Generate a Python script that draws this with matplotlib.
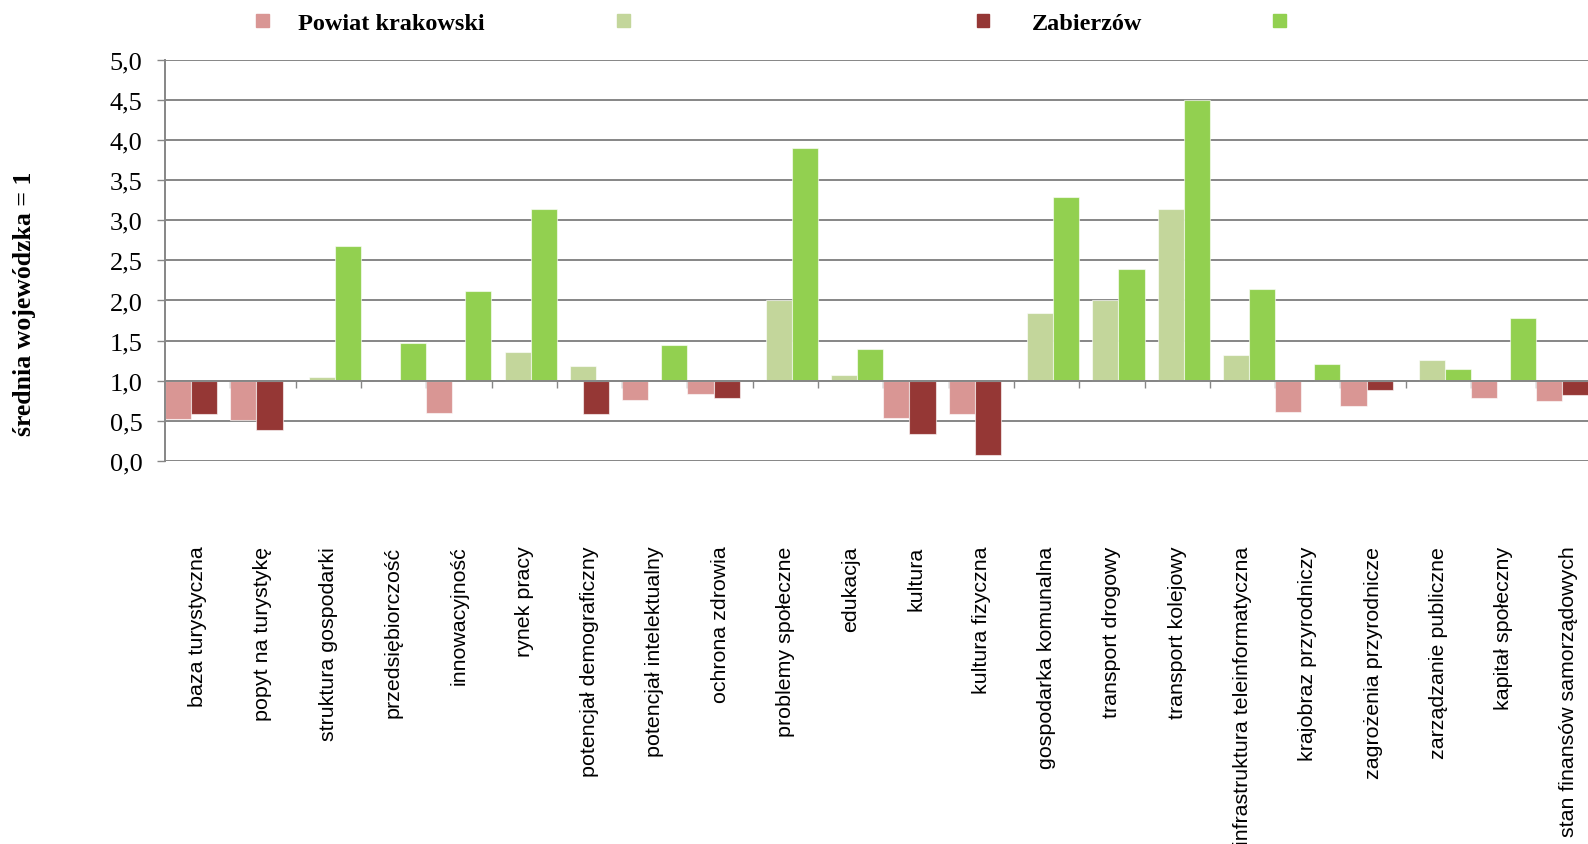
import matplotlib.pyplot as plt
import numpy as np
from matplotlib.patches import Rectangle
from matplotlib.ticker import FuncFormatter

categories = [
    "baza turystyczna", "popyt na turystykę", "struktura gospodarki",
    "przedsiębiorczość", "innowacyjność", "rynek pracy",
    "potencjał demograficzny", "potencjał intelektualny", "ochrona zdrowia",
    "problemy społeczne", "edukacja", "kultura", "kultura fizyczna",
    "gospodarka komunalna", "transport drogowy", "transport kolejowy",
    "infrastruktura teleinformatyczna", "krajobraz przyrodniczy",
    "zagrożenia przyrodnicze", "zarządzanie publiczne", "kapitał społeczny",
    "stan finansów samorządowych",
]
powiat = [0.52, 0.51, 1.05, 1.00, 0.60, 1.36, 1.18, 0.76, 0.83, 2.00, 1.07,
          0.53, 0.59, 1.84, 2.00, 3.14, 1.32, 0.61, 0.69, 1.26, 0.78, 0.75]
zabierzow = [0.58, 0.39, 2.68, 1.47, 2.12, 3.14, 0.58, 1.44, 0.78, 3.90, 1.40,
             0.34, 0.08, 3.29, 2.39, 4.50, 2.14, 1.21, 0.89, 1.15, 1.78, 0.82]
series_names = ["Powiat krakowski", "", "Zabierzów", ""]

W, H = 1588, 845
GRAY = "#868686"
col_pk_low, col_pk_high = "#D99694", "#C3D69B"
col_z_low, col_z_high = "#953735", "#92D050"

fig = plt.figure(figsize=(W / 100, H / 100), dpi=100)
# plot area runs past the right edge, like in the original
ax_left, ax_right, ax_top, ax_bot = 165, 165 + 22 * 65.3, 60.7, 462
ax = fig.add_axes([ax_left / W, 1 - ax_bot / H, (ax_right - ax_left) / W, (ax_bot - ax_top) / H])

idx = np.arange(len(categories))
pk = np.array(powiat)
zb = np.array(zabierzow)
edge = (1, 1, 1, 0.6)

lo = pk < 1
ax.bar(idx[lo], pk[lo] - 1, bottom=1, width=0.4, align="edge", color=col_pk_low, edgecolor=edge, lw=0.8)
ax.bar(idx[~lo] + 0.2, pk[~lo] - 1, bottom=1, width=0.4, align="edge", color=col_pk_high, edgecolor=edge, lw=0.8)
lo = zb < 1
ax.bar(idx[lo] + 0.4, zb[lo] - 1, bottom=1, width=0.4, align="edge", color=col_z_low, edgecolor=edge, lw=0.8)
ax.bar(idx[~lo] + 0.6, zb[~lo] - 1, bottom=1, width=0.4, align="edge", color=col_z_high, edgecolor=edge, lw=0.8)

ax.set_xlim(0, len(categories))
ax.set_ylim(0, 5)
ax.set_yticks(np.arange(0, 5.01, 0.5))
ax.yaxis.set_major_formatter(FuncFormatter(lambda v, p: f"{v:.1f}".replace(".", ",")))
ax.tick_params(axis="y", length=5.8, width=1, color=GRAY, pad=10.5,
               labelsize=19, labelfontfamily="Liberation Serif")
ax.set_axisbelow(True)
ax.yaxis.grid(True, color=GRAY, lw=1.4)

for s in ["top", "right"]:
    ax.spines[s].set_visible(False)
ax.spines["left"].set_color(GRAY)
ax.spines["left"].set_linewidth(1.4)
ax.spines["bottom"].set_position(("data", 1.0))
ax.spines["bottom"].set_color(GRAY)
ax.spines["bottom"].set_linewidth(1.4)

# category boundary ticks on the 1.0 line
ax.set_xticks(np.arange(0, len(categories) + 1))
ax.set_xticklabels([])
ax.tick_params(axis="x", length=5, width=1, color=GRAY, direction="out")

# category labels below the plot
sec = ax.secondary_xaxis(0.0)
sec.set_xticks(idx + 0.5)
sec.set_xticklabels(categories, rotation=90, fontsize=15.4, fontfamily="Liberation Sans")
sec.tick_params(length=0, pad=61)
sec.spines["bottom"].set_visible(False)

fig.text(25 / W, 1 - 304 / H, "średnia wojewódzka = 1", rotation=90, ha="center", va="center",
         fontsize=18.5, fontweight="bold", fontfamily="Liberation Serif")

# legend laid out as in the source chart
leg_colors = [col_pk_low, col_pk_high, col_z_low, col_z_high]
leg_marker_x = [262.5, 623.5, 983, 1279.5]
leg_text_x = [298, None, 1031.5, None]
msize = 12.5
for name, c, mx, tx in zip(series_names, leg_colors, leg_marker_x, leg_text_x):
    fig.add_artist(Rectangle(((mx - msize / 2) / W, 1 - (21.5 + msize / 2) / H), msize / W, msize / H,
                             transform=fig.transFigure, color=c))
    if tx is not None and name:
        fig.text(tx / W, 1 - 30 / H, name, ha="left", va="baseline", fontsize=17.5,
                 fontweight="bold", fontfamily="Liberation Serif")

fig.savefig("out.png", dpi=100)
